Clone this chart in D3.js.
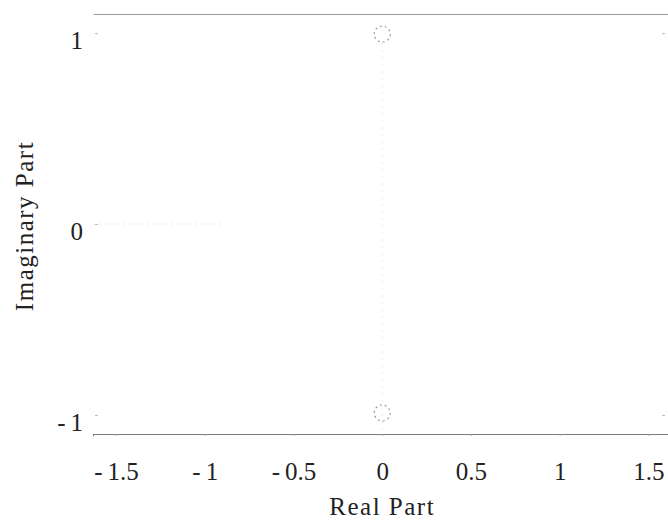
<!DOCTYPE html>
<html>
<head>
<meta charset="utf-8">
<script src="https://cdn.jsdelivr.net/npm/d3@7"></script>
<style>
  body { margin: 0; background: #fff; }
  svg { display: block; }
  .axis text { font-family: "Liberation Serif", "Times New Roman", serif; font-size: 25px; fill: #222; }
  .label { font-family: "Liberation Serif", "Times New Roman", serif; font-size: 25px; fill: #222; letter-spacing: 1.5px; }
</style>
</head>
<body>
<script>
    //Width and height
    var w = 668;
    var h = 523;

    // pole-zero data (zeros on the imaginary axis)
    var zerosRe = [0, 0];
    var zerosIm = [1, -1];
    var xTicks = [-1.5, -1, -0.5, 0, 0.5, 1, 1.5];
    var yTicks = [-1, 0, 1];

    var xScale = d3.scaleLinear().domain([-1.63, 1.65]).range([93, 675]);
    var yScale = d3.scaleLinear().domain([-1.1, 1.1]).range([434, 14]);

    // plain hyphen + thin space for negatives, like the original print
    var fmt = function(d) { return d < 0 ? "-\u2009" + Math.abs(d) : String(d); };

    var svg = d3.select("body").append("svg")
                .attr("width", w)
                .attr("height", h);

    //faint dotted real / imaginary axes
    svg.append("line")
       .attr("x1", xScale(-1.63)).attr("x2", xScale(-0.9))
       .attr("y1", yScale(0)).attr("y2", yScale(0))
       .attr("stroke", "#e4e4e4").attr("stroke-dasharray", "2,4");
    svg.append("line")
       .attr("x1", xScale(0)).attr("x2", xScale(0))
       .attr("y1", yScale(1) + 10).attr("y2", yScale(-1.1))
       .attr("stroke", "#e8e8e8").attr("stroke-dasharray", "2,5");

    //bottom axis
    let xAxis = d3.axisBottom(xScale)
            .tickValues(xTicks)
            .tickSize(2)
            .tickPadding(26)
            .tickFormat(fmt);
    let gx = svg.append("g")
       .attr("class", "axis")
       .attr("transform", `translate(0, ${yScale(-1.1)})`)
       .call(xAxis);
    gx.select(".domain").attr("stroke", "#7a7a7a").attr("stroke-width", 1.2);
    gx.selectAll(".tick line").attr("stroke", "#aaa");
    gx.selectAll(".tick text").attr("fill", "#222").attr("font-family", null).attr("font-size", null);

    //top frame line
    let gt = svg.append("g")
       .attr("transform", `translate(0, ${yScale(1.1)})`)
       .call(d3.axisTop(xScale).tickValues([]).tickSizeOuter(0));
    gt.select(".domain").attr("stroke", "#9a9a9a").attr("stroke-width", 1);

    //left axis (only ticks and labels visible)
    let yAxis = d3.axisLeft(yScale)
            .tickValues(yTicks)
            .tickSize(-3)
            .tickPadding(12)
            .tickFormat(fmt);
    let gy = svg.append("g")
        .attr("class", "axis")
        .attr("transform", `translate(${xScale(-1.63) + 2}, 0)`)
        .call(yAxis);
    gy.select(".domain").remove();
    gy.selectAll(".tick line").attr("stroke", "#bbb");
    gy.selectAll(".tick text").attr("dy", "0.62em").attr("fill", "#222").attr("font-family", null).attr("font-size", null);

    //right ticks
    let gr = svg.append("g")
        .attr("transform", `translate(${w - 3}, 0)`)
        .call(d3.axisRight(yScale).tickValues([1, -1]).tickSize(-3).tickFormat(""));
    gr.select(".domain").remove();
    gr.selectAll(".tick line").attr("stroke", "#bbb");

    //zeros
    svg.selectAll("circle.zero")
       .data(zerosRe.map(function(d, i) { return {re: d, im: zerosIm[i]}; }))
       .enter()
       .append("circle")
       .attr("class", "zero")
       .attr("cx", function(d) { return xScale(d.re); })
       .attr("cy", function(d) { return yScale(d.im) + (d.im < 0 ? -2 : 1); })
       .attr("r", 8)
       .attr("fill", "none")
       .attr("stroke", "#9a9a9a")
       .attr("stroke-width", 1.2)
       .attr("stroke-dasharray", "2,3");

    //axis titles
    svg.append("text")
       .attr("class", "label")
       .attr("x", xScale(0))
       .attr("y", 515)
       .attr("text-anchor", "middle")
       .text("Real Part");

    svg.append("text")
       .attr("class", "label")
       .attr("transform", `translate(33, ${yScale(0) + 2}) rotate(-90)`)
       .attr("text-anchor", "middle")
       .text("Imaginary Part");
</script>
</body>
</html>
